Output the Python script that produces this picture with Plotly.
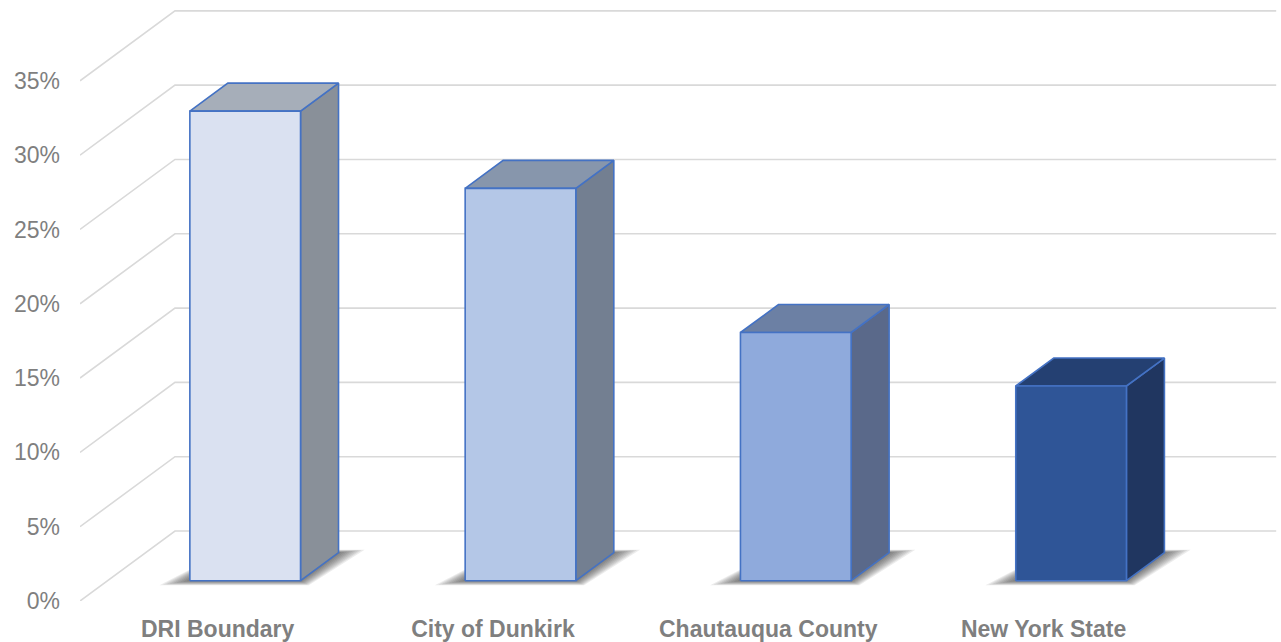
import plotly.graph_objects as go

# Share of population by geography (percent)
categories = ["DRI Boundary", "City of Dunkirk", "Chautauqua County", "New York State"]
values = [31.6, 26.4, 16.7, 13.1]
y_ticks = [0, 5, 10, 15, 20, 25, 30, 35]
tick_labels = [f"{t}%" for t in y_ticks]

front_colors = ["#DAE1F1", "#B4C7E7", "#8FAADC", "#2F5597"]
top_colors = ["#A6AEB9", "#8796AC", "#6C80A4", "#244072"]
side_colors = ["#899099", "#737F91", "#5A698A", "#203660"]
EDGE = "#4472C4"
GRID = "#d9d9d9"
TEXT = "#7f7f7f"
FONT = "Liberation Sans, Arial, sans-serif"

# Oblique 3-D projection: full floor depth expressed in axis units
DEPTH_X = 0.345   # category units
DEPTH_Y = 4.71    # percentage points
BAR_W = 0.402     # bar width in category units
D0, D1 = 0.29, 0.69  # bar front / back depth as fraction of floor depth
N = len(categories)


def proj(x, y, d):
    return x + d * DEPTH_X, y + d * DEPTH_Y


def poly(points):
    xs = [p[0] for p in points] + [points[0][0]]
    ys = [p[1] for p in points] + [points[0][1]]
    return xs, ys


fig = go.Figure()

# Back wall and side wall gridlines
gx, gy = [], []
for t in y_ticks:
    x0, y0 = proj(0, t, 0)
    x1, y1 = proj(0, t, 1)
    x2, y2 = proj(N, t, 1)
    gx += [x0, x1, x2, None]
    gy += [y0, y1, y2, None]
fig.add_trace(go.Scatter(x=gx, y=gy, mode="lines",
                         line=dict(color=GRID, width=1.6),
                         hoverinfo="skip", showlegend=False))

# Soft floor shadows under each bar (stacked translucent layers)
LAYERS = 9
for i in range(N):
    xl = i + 0.5 - BAR_W / 2
    xr = i + 0.5 + BAR_W / 2
    fl = proj(xl, 0, D0)
    fr = proj(xr, 0, D0)
    br = proj(xr, 0, D1)
    bl = proj(xl, 0, D1)
    for k in range(1, LAYERS + 1):
        s = k / LAYERS
        pts = [
            (fl[0] - 0.11 * s, fl[1] - 0.30 * s),
            (fr[0] + 0.03 * s, fr[1] - 0.30 * s),
            (br[0] + 0.095 * s, br[1] + 0.20 * s),
            (bl[0], bl[1] + 0.20 * s),
        ]
        xs, ys = poly(pts)
        fig.add_trace(go.Scatter(x=xs, y=ys, mode="lines", fill="toself",
                                 fillcolor="rgba(40,40,40,0.085)",
                                 line=dict(width=0), hoverinfo="skip",
                                 showlegend=False))

# Bars: side, top and front faces
for i, v in enumerate(values):
    xl = i + 0.5 - BAR_W / 2
    xr = i + 0.5 + BAR_W / 2
    f_bl, f_br = proj(xl, 0, D0), proj(xr, 0, D0)
    f_tl, f_tr = proj(xl, v, D0), proj(xr, v, D0)
    b_br = proj(xr, 0, D1)
    b_tl, b_tr = proj(xl, v, D1), proj(xr, v, D1)
    faces = [
        ([f_br, b_br, b_tr, f_tr], side_colors[i]),
        ([f_tl, f_tr, b_tr, b_tl], top_colors[i]),
        ([f_bl, f_br, f_tr, f_tl], front_colors[i]),
    ]
    for pts, col in faces:
        xs, ys = poly(pts)
        fig.add_trace(go.Scatter(x=xs, y=ys, mode="lines", fill="toself",
                                 fillcolor=col,
                                 line=dict(color=EDGE, width=1.6),
                                 hoverinfo="skip", showlegend=False))

fig.update_layout(
    width=1281, height=642,
    margin=dict(l=80, r=0, t=0, b=41),
    paper_bgcolor="white", plot_bgcolor="white",
    showlegend=False,
    xaxis=dict(range=[0, 4.3625], showgrid=False, zeroline=False,
               showline=False, ticks="",
               tickmode="array",
               tickvals=[i + 0.5 for i in range(N)], ticktext=categories,
               tickfont=dict(family=FONT, size=23, color=TEXT, weight="bold"),
               ticklabelstandoff=12, fixedrange=True),
    yaxis=dict(range=[0, 40.44], showgrid=False, zeroline=False,
               showline=False, ticks="",
               tickmode="array", tickvals=y_ticks, ticktext=tick_labels,
               tickfont=dict(family=FONT, size=23, color=TEXT),
               ticklabelstandoff=19, fixedrange=True),
)

fig.write_html("out.html")
